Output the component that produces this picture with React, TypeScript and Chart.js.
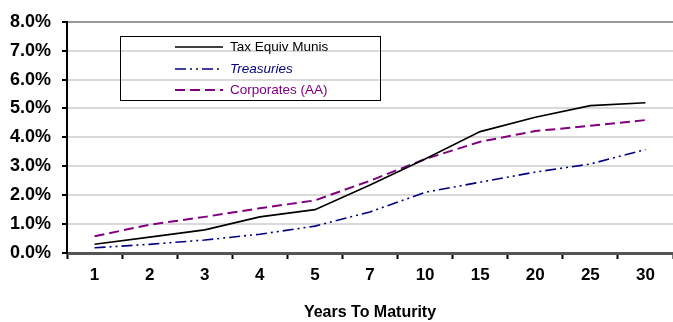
import React, { useEffect, useRef } from "react";
import { Chart, registerables } from "chart.js";

Chart.register(...registerables);

const maturities = ["1", "2", "3", "4", "5", "7", "10", "15", "20", "25", "30"];
const taxEquivMunis = [0.3, 0.55, 0.8, 1.25, 1.5, 2.35, 3.25, 4.2, 4.7, 5.1, 5.2];
const treasuries = [0.18, 0.3, 0.45, 0.65, 0.93, 1.42, 2.1, 2.45, 2.8, 3.08, 3.58];
const corporatesAA = [0.58, 0.98, 1.25, 1.55, 1.82, 2.5, 3.25, 3.85, 4.22, 4.4, 4.6];
const seriesNames = ["Tax Equiv Munis", "Treasuries", "Corporates (AA)"];
const axisTitle = "Years To Maturity";

const FONT = "'Liberation Sans', Arial, sans-serif";

const legendBoxPlugin = {
  id: "legendBox",
  afterDraw(chart: any) {
    const ctx = chart.ctx;
    ctx.save();
    ctx.strokeStyle = "#000";
    ctx.lineWidth = 1;
    ctx.strokeRect(120.5, 36.5, 260, 64);
    const rows = [47, 69, 90];
    chart.data.datasets.forEach((ds: any, i: number) => {
      const y = rows[i];
      ctx.beginPath();
      ctx.strokeStyle = ds.borderColor;
      ctx.lineWidth = ds.borderWidth;
      ctx.setLineDash(ds.borderDash || []);
      ctx.moveTo(175, y);
      ctx.lineTo(223, y);
      ctx.stroke();
      ctx.setLineDash([]);
      ctx.fillStyle = ds.legendTextColor;
      ctx.font = (i === 1 ? "italic " : "") + "13.5px " + FONT;
      ctx.textBaseline = "middle";
      ctx.textAlign = "left";
      ctx.fillText(ds.label, 230, y);
    });
    ctx.restore();
  },
};

export default function App() {
  const ref = useRef<HTMLCanvasElement>(null);
  useEffect(() => {
    document.body.style.margin = "0";
    const chart = new Chart(ref.current as HTMLCanvasElement, {
      type: "line",
      data: {
        labels: maturities,
        datasets: [
          {
            label: seriesNames[0],
            data: taxEquivMunis,
            borderColor: "#000000",
            borderWidth: 1.6,
            pointRadius: 0,
            tension: 0,
            legendTextColor: "#000000",
          } as any,
          {
            label: seriesNames[1],
            data: treasuries,
            borderColor: "#000080",
            borderWidth: 1.6,
            borderDash: [11, 4, 2, 4, 2, 4],
            pointRadius: 0,
            tension: 0,
            legendTextColor: "#000080",
          } as any,
          {
            label: seriesNames[2],
            data: corporatesAA,
            borderColor: "#800080",
            borderWidth: 2,
            borderDash: [10, 5],
            pointRadius: 0,
            tension: 0,
            legendTextColor: "#800080",
          } as any,
        ],
      },
      options: {
        animation: false,
        responsive: false,
        maintainAspectRatio: false,
        layout: { padding: { top: 20, right: 0, left: 0, bottom: 0 } },
        plugins: {
          legend: { display: false },
          tooltip: { enabled: false },
        },
        scales: {
          x: {
            type: "category",
            offset: true,
            afterFit(scale: any) {
              scale.height = 69;
            },
            grid: {
              offset: true,
              drawOnChartArea: false,
              drawTicks: true,
              tickLength: 6,
              tickColor: "#000",
              tickWidth: 2,
            },
            border: { color: "#555", width: 3 },
            ticks: {
              color: "#000",
              padding: 6,
              maxRotation: 0,
              font: { family: FONT, size: 17, weight: "bold" },
            },
            title: {
              display: true,
              text: axisTitle,
              color: "#000",
              font: { family: FONT, size: 16, weight: "bold" },
              padding: { top: 0, bottom: 0 },
            },
          },
          y: {
            min: 0,
            max: 8,
            afterFit(scale: any) {
              scale.width = 67;
            },
            grid: {
              color: (c: any) => (c.tick && c.tick.value === 8 ? "#999" : "#d9d9d9"),
              lineWidth: 2,
              drawTicks: true,
              tickLength: 5,
              tickColor: "#000",
              tickWidth: 2,
            },
            border: { color: "#000", width: 2 },
            ticks: {
              stepSize: 1,
              color: "#000",
              padding: 11,
              font: { family: FONT, size: 18, weight: "bold" },
              callback: (v: any) => Number(v).toFixed(1) + "%",
            },
          },
        },
      } as any,
      plugins: [legendBoxPlugin],
    });
    return () => chart.destroy();
  }, []);
  return (
    <div style={{ position: "absolute", left: 0, top: 0, width: 673, height: 322 }}>
      <canvas ref={ref} width={673} height={322} style={{ width: 673, height: 322 }} />
    </div>
  );
}
